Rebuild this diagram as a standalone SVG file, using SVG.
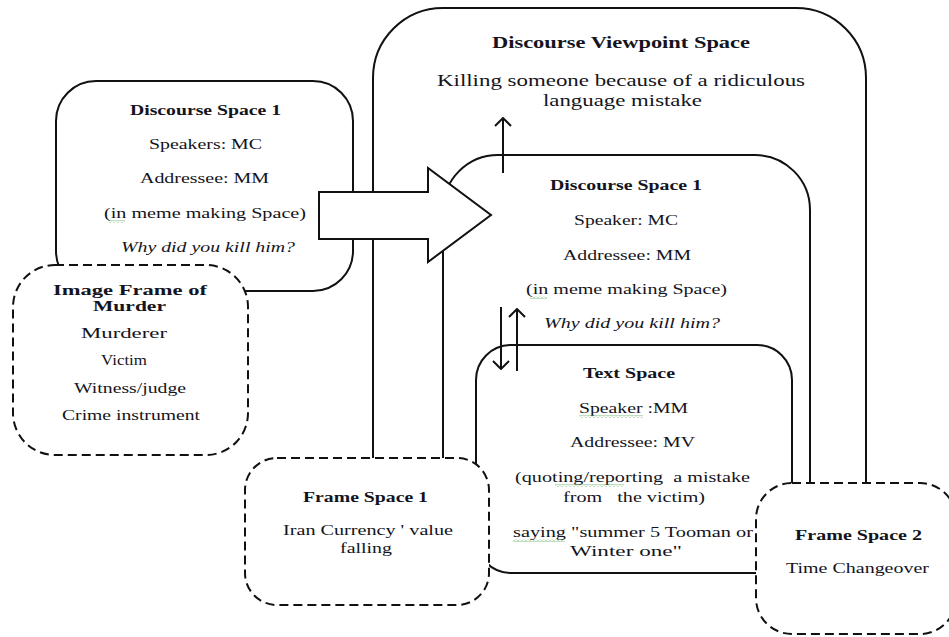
<svg xmlns="http://www.w3.org/2000/svg" width="949" height="637" viewBox="0 0 949 637">
  <defs>
    <style>
      .box { fill: none; stroke: #111; stroke-width: 2; }
      .solid { fill: #fff; stroke: #111; stroke-width: 2; }
      .dash { fill: #fff; stroke: #111; stroke-width: 2; stroke-dasharray: 9 5; }
      .link { fill: none; stroke: #111; stroke-width: 2; }
      text { font-family: "Liberation Serif", "Times New Roman", serif; font-size: 15px; fill: #141420; white-space: pre; }
      .t { font-weight: bold; }
      .big { font-size: 16px; }
      .it { font-style: italic; }
    </style>
    <marker id="vhead" viewBox="0 0 10 18" refX="9" refY="9" markerWidth="10" markerHeight="18" markerUnits="userSpaceOnUse" orient="auto">
      <path d="M1,1 L9,9 L1,17" fill="none" stroke="#111" stroke-width="2"/>
    </marker>
    <pattern id="wave" width="4" height="3" patternUnits="userSpaceOnUse">
      <path d="M0,2.5 L2,0.5 L4,2.5" fill="none" stroke="#5fae5f" stroke-width="0.8"/>
    </pattern>
  </defs>

  <rect width="949" height="637" fill="#fff"/>

  <!-- Discourse Viewpoint Space (outermost, open at the bottom) -->
  <g id="discourse-viewpoint-space">
    <path class="box" d="M373,470 L373,78 A70,70 0 0 1 443,8 L796,8 A70,70 0 0 1 866,78 L866,500"/>
    <text class="t big" x="492" y="48" textLength="258" lengthAdjust="spacingAndGlyphs">Discourse Viewpoint Space</text>
    <text class="big" x="437" y="86" textLength="368" lengthAdjust="spacingAndGlyphs">Killing someone because of a ridiculous</text>
    <text class="big" x="543" y="106" textLength="159" lengthAdjust="spacingAndGlyphs">language mistake</text>
  </g>

  <!-- Inner Discourse Space 1 -->
  <g id="discourse-space-1-inner">
    <path class="box" d="M443,470 L443,210 A55,55 0 0 1 498,155 L755,155 A55,55 0 0 1 810,210 L810,500"/>
    <text class="t" x="550" y="190" textLength="152" lengthAdjust="spacingAndGlyphs">Discourse Space 1</text>
    <text x="574" y="225" textLength="104" lengthAdjust="spacingAndGlyphs">Speaker: MC</text>
    <text x="563" y="260" textLength="128" lengthAdjust="spacingAndGlyphs">Addressee: MM</text>
    <text x="526" y="294" textLength="201" lengthAdjust="spacingAndGlyphs">(in meme making Space)</text>
    <rect x="530" y="296" width="17" height="3" fill="url(#wave)"/>
    <text class="it" x="544" y="328" textLength="176" lengthAdjust="spacingAndGlyphs">Why did you kill him?</text>
  </g>

  <!-- Text Space -->
  <g id="text-space">
    <rect class="solid" x="476" y="345" width="316" height="228" rx="35"/>
    <text class="t" x="583" y="378" textLength="92" lengthAdjust="spacingAndGlyphs">Text Space</text>
    <text x="579" y="413" textLength="109" lengthAdjust="spacingAndGlyphs">Speaker :MM</text>
    <rect x="579" y="415" width="64" height="3" fill="url(#wave)"/>
    <text x="570" y="447" textLength="125" lengthAdjust="spacingAndGlyphs">Addressee: MV</text>
    <text x="515" y="482" textLength="235" lengthAdjust="spacingAndGlyphs">(quoting/reporting  a mistake</text>
    <rect x="555" y="484" width="69" height="3" fill="url(#wave)"/>
    <text x="563" y="502" textLength="142" lengthAdjust="spacingAndGlyphs">from   the victim)</text>
    <text x="513" y="537" textLength="240" lengthAdjust="spacingAndGlyphs">saying "summer 5 Tooman or</text>
    <rect x="513" y="539" width="52" height="3" fill="url(#wave)"/>
    <text x="570" y="556" textLength="112" lengthAdjust="spacingAndGlyphs">Winter one"</text>
  </g>

  <!-- Left Discourse Space 1 -->
  <g id="discourse-space-1-left">
    <rect class="solid" x="56" y="81" width="297" height="210" rx="40"/>
    <text class="t" x="130" y="115" textLength="151" lengthAdjust="spacingAndGlyphs">Discourse Space 1</text>
    <text x="149" y="149" textLength="113" lengthAdjust="spacingAndGlyphs">Speakers: MC</text>
    <text x="140" y="183" textLength="129" lengthAdjust="spacingAndGlyphs">Addressee: MM</text>
    <text x="104" y="218" textLength="202" lengthAdjust="spacingAndGlyphs">(in meme making Space)</text>
    <rect x="108" y="220" width="17" height="3" fill="url(#wave)"/>
    <text class="it" x="121" y="252" textLength="174" lengthAdjust="spacingAndGlyphs">Why did you kill him?</text>
  </g>

  <!-- Image Frame of Murder -->
  <g id="image-frame-of-murder">
    <rect class="dash" x="13" y="265" width="235" height="190" rx="42"/>
    <text class="t" x="53" y="295" textLength="154" lengthAdjust="spacingAndGlyphs">Image Frame of</text>
    <text class="t" x="93" y="311" textLength="73" lengthAdjust="spacingAndGlyphs">Murder</text>
    <text x="81" y="338" textLength="86" lengthAdjust="spacingAndGlyphs">Murderer</text>
    <text x="101" y="365" textLength="46" lengthAdjust="spacingAndGlyphs">Victim</text>
    <text x="74" y="393" textLength="112" lengthAdjust="spacingAndGlyphs">Witness/judge</text>
    <text x="62" y="420" textLength="138" lengthAdjust="spacingAndGlyphs">Crime instrument</text>
  </g>

  <!-- Frame Space 1 -->
  <g id="frame-space-1">
    <rect class="dash" x="245" y="458" width="244" height="147" rx="32"/>
    <text class="t" x="303" y="502" textLength="125" lengthAdjust="spacingAndGlyphs">Frame Space 1</text>
    <text x="283" y="535" textLength="170" lengthAdjust="spacingAndGlyphs">Iran Currency ' value</text>
    <text x="340" y="553" textLength="52" lengthAdjust="spacingAndGlyphs">falling</text>
  </g>

  <!-- Frame Space 2 -->
  <g id="frame-space-2">
    <rect class="dash" x="756" y="483" width="200" height="151" rx="36"/>
    <text class="t" x="795" y="540" textLength="127" lengthAdjust="spacingAndGlyphs">Frame Space 2</text>
    <text x="786" y="573" textLength="143" lengthAdjust="spacingAndGlyphs">Time Changeover</text>
  </g>

  <!-- Connectors -->
  <g id="connectors">
    <polygon class="solid" points="319,192 428,192 428,168 491,215 428,262 428,239 319,239"/>
    <line class="link" x1="503" y1="173" x2="503" y2="118" marker-end="url(#vhead)"/>
    <line class="link" x1="501" y1="307" x2="501" y2="369" marker-end="url(#vhead)"/>
    <line class="link" x1="517" y1="371" x2="517" y2="309" marker-end="url(#vhead)"/>
  </g>
</svg>
